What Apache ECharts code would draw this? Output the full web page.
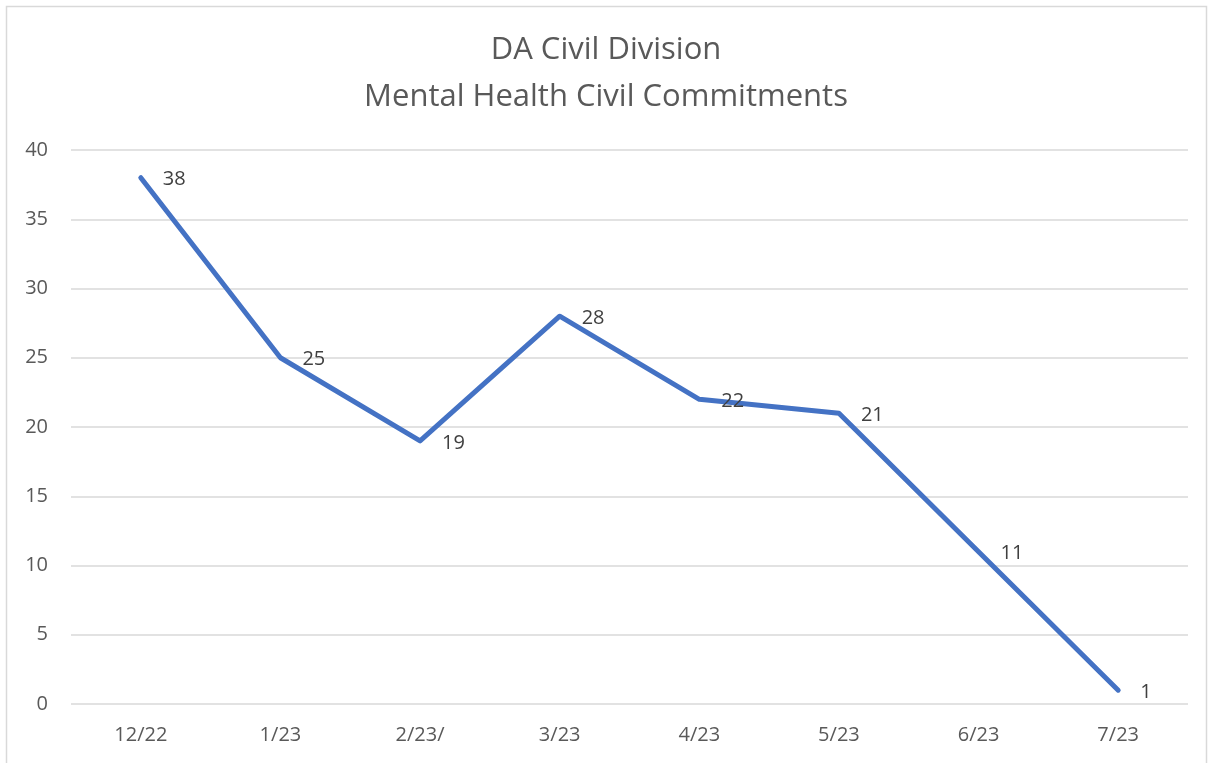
<!DOCTYPE html>
<html>
<head>
<meta charset="utf-8">
<script src="https://cdn.jsdelivr.net/npm/echarts@6/dist/echarts.min.js"></script>
<style>
  html, body { margin: 0; padding: 0; background: #fff; }
  #chart { width: 1212px; height: 763px; }
</style>
</head>
<body>
<div id="chart"></div>
<script>
const months = ['12/22', '1/23', '2/23/', '3/23', '4/23', '5/23', '6/23', '7/23'];
const commitments = [38, 25, 19, 28, 22, 21, 11, 1];

const chart = echarts.init(document.getElementById('chart'));
const textFont = "'Open Sans', 'Noto Sans', sans-serif";

chart.setOption({
  animation: false,
  backgroundColor: '#fff',
  textStyle: { fontFamily: textFont },
  graphic: [{
    type: 'rect',
    shape: { x: 6.5, y: 6.5, width: 1200, height: 800 },
    style: { fill: 'none', stroke: '#d9d9d9', lineWidth: 1.5 },
    silent: true
  }],
  title: {
    text: 'DA Civil Division\nMental Health Civil Commitments',
    left: 'center',
    top: 22,
    textStyle: {
      color: '#595959',
      fontSize: 31,
      fontWeight: 'normal',
      lineHeight: 47,
      fontFamily: textFont
    }
  },
  grid: { left: 71, right: 24, top: 150, bottom: 59 },
  xAxis: {
    type: 'category',
    data: months,
    boundaryGap: true,
    axisLine: { show: false },
    axisTick: { show: false },
    axisLabel: { color: '#595959', fontSize: 20, margin: 21, fontFamily: textFont }
  },
  yAxis: {
    type: 'value',
    min: 0,
    max: 40,
    interval: 5,
    axisLine: { show: false },
    axisTick: { show: false },
    axisLabel: { color: '#595959', fontSize: 20, margin: 23, fontFamily: textFont },
    splitLine: { lineStyle: { color: '#d9d9d9', width: 1.5 } }
  },
  series: [{
    type: 'line',
    data: commitments,
    symbol: 'circle',
    symbolSize: 2,
    showSymbol: true,
    showAllSymbol: true,
    itemStyle: { color: 'rgba(68,114,196,0)', borderWidth: 0 },
    lineStyle: { color: '#4472c4', width: 5, cap: 'round', join: 'round' },
    label: {
      show: true,
      position: 'right',
      distance: 21,
      color: '#404040',
      fontSize: 20,
      offset: [0, 2],
      fontFamily: textFont
    }
  }]
});
</script>
</body>
</html>
